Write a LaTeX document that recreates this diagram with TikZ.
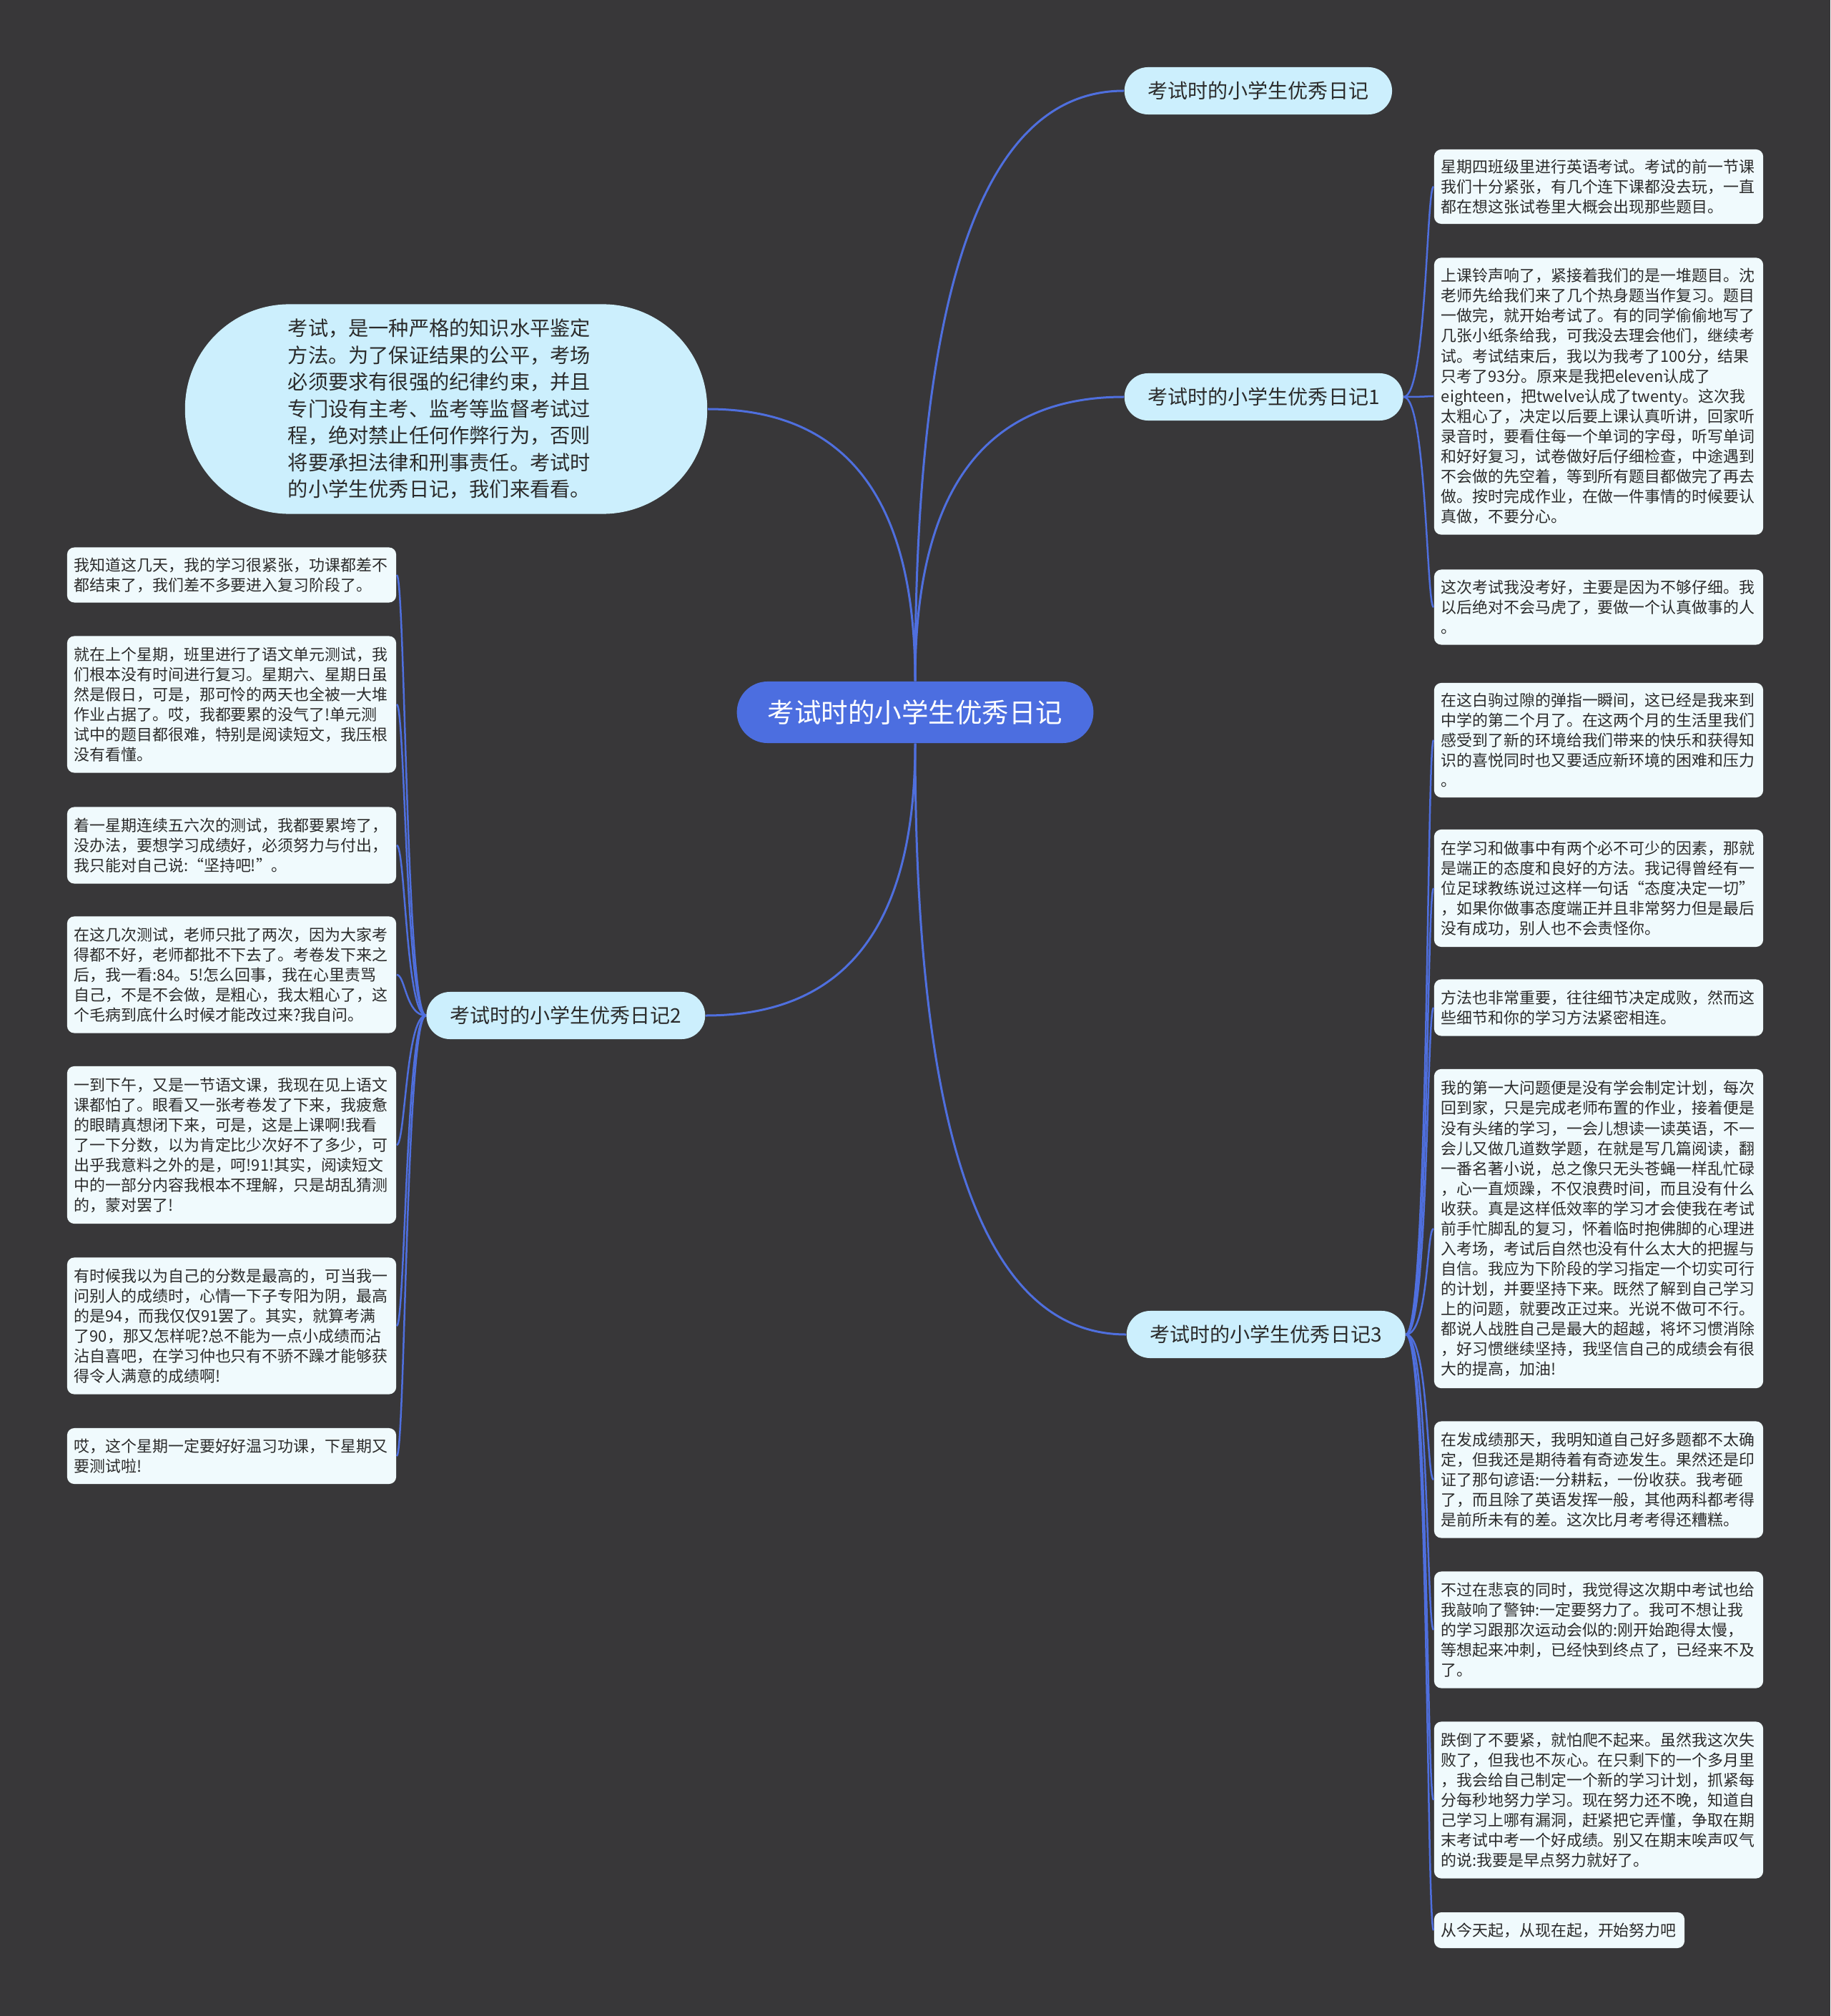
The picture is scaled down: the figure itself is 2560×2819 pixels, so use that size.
\documentclass[tikz,border=0pt]{standalone}
\usepackage{fontspec}
\setmainfont{Noto Sans CJK SC}
\usetikzlibrary{calc}

\definecolor{bgcol}{HTML}{383739}
\definecolor{linkcol}{HTML}{4F6FDE}
\definecolor{rootcol}{HTML}{4C6EE0}
\definecolor{topiccol}{HTML}{CCEFFD}
\definecolor{leafcol}{HTML}{F0FAFD}
\definecolor{inkcol}{HTML}{2B2B2B}

\tikzset{
  root/.style={fill=rootcol, text=white, rounded corners=0.43cm, minimum height=0.86cm,
    inner xsep=0.43cm, font=\fontsize{10.67pt}{12pt}\selectfont},
  topic/.style={fill=topiccol, text=inkcol, rounded corners=0.33cm, minimum height=0.66cm,
    inner xsep=0.33cm, font=\fontsize{7.97pt}{9pt}\selectfont},
  intro/.style={fill=topiccol, text=inkcol, rounded corners=1.46cm, minimum width=7.3cm,
    minimum height=2.93cm, text width=4.42cm, align=left, font=\fontsize{8.02pt}{10.67pt}\selectfont},
  leaf/.style={fill=leafcol, text=inkcol, rounded corners=0.1cm, text width=4.4cm,
    inner xsep=0.1cm, inner ysep=0pt, align=left, font=\fontsize{6.23pt}{7.97pt}\selectfont},
  limb/.style={draw=linkcol, line width=0.03cm},
  twig/.style={draw=linkcol, line width=0.025cm},
}

% curved branch from the root, bending through the corner (from |- to)
\newcommand{\branch}[2]{\draw[limb] (#1) .. controls ($(#1)!.67!(#1 |- #2)$) and ($(#2)!.67!(#1 |- #2)$) .. (#2);}

\begin{document}
\begin{tikzpicture}[x=0.01cm, y=-0.01cm]
\path[use as bounding box, fill=bgcol] (0,0) rectangle (2560,2819);

% Centre and main topics
\node[root] (root) at (1280,996) {考试时的小学生优秀日记};
\node[topic, anchor=west] (t0) at (1572,127) {考试时的小学生优秀日记};
\node[topic, anchor=west] (t1) at (1572,555) {考试时的小学生优秀日记1};
\node[topic, anchor=east] (t2) at (987,1420) {考试时的小学生优秀日记2};
\node[topic, anchor=west] (t3) at (1575,1866) {考试时的小学生优秀日记3};

\node[intro] (intro) at (624,572) {考试，是一种严格的知识水平鉴定\\
方法。为了保证结果的公平，考场\\
必须要求有很强的纪律约束，并且\\
专门设有主考、监考等监督考试过\\
程，绝对禁止任何作弊行为，否则\\
将要承担法律和刑事责任。考试时\\
的小学生优秀日记，我们来看看。};

% Leaves of topic 1
\node[leaf, minimum height=1.04cm] (l1a) at (2236,261) {星期四班级里进行英语考试。考试的前一节课\\
我们十分紧张，有几个连下课都没去玩，一直\\
都在想这张试卷里大概会出现那些题目。};
\node[leaf, minimum height=3.87cm] (l1b) at (2236,554) {上课铃声响了，紧接着我们的是一堆题目。沈\\
老师先给我们来了几个热身题当作复习。题目\\
一做完，就开始考试了。有的同学偷偷地写了\\
几张小纸条给我，可我没去理会他们，继续考\\
试。考试结束后，我以为我考了100分，结果\\
只考了93分。原来是我把eleven认成了\\
eighteen，把twelve认成了twenty。这次我\\
太粗心了，决定以后要上课认真听讲，回家听\\
录音时，要看住每一个单词的字母，听写单词\\
和好好复习，试卷做好后仔细检查，中途遇到\\
不会做的先空着，等到所有题目都做完了再去\\
做。按时完成作业，在做一件事情的时候要认\\
真做，不要分心。};
\node[leaf, minimum height=1.05cm] (l1c) at (2236,849) {这次考试我没考好，主要是因为不够仔细。我\\
以后绝对不会马虎了，要做一个认真做事的人\\
。};

% Leaves of topic 3
\node[leaf, minimum height=1.6cm] (l3a) at (2236,1035) {在这白驹过隙的弹指一瞬间，这已经是我来到\\
中学的第二个月了。在这两个月的生活里我们\\
感受到了新的环境给我们带来的快乐和获得知\\
识的喜悦同时也又要适应新环境的困难和压力\\
。};
\node[leaf, minimum height=1.64cm] (l3b) at (2236,1242) {在学习和做事中有两个必不可少的因素，那就\\
是端正的态度和良好的方法。我记得曾经有一\\
位足球教练说过这样一句话“态度决定一切”\\
，如果你做事态度端正并且非常努力但是最后\\
没有成功，别人也不会责怪你。};
\node[leaf, minimum height=0.79cm] (l3c) at (2236,1409) {方法也非常重要，往往细节决定成败，然而这\\
些细节和你的学习方法紧密相连。};
\node[leaf, minimum height=4.46cm] (l3d) at (2236,1718) {我的第一大问题便是没有学会制定计划，每次\\
回到家，只是完成老师布置的作业，接着便是\\
没有头绪的学习，一会儿想读一读英语，不一\\
会儿又做几道数学题，在就是写几篇阅读，翻\\
一番名著小说，总之像只无头苍蝇一样乱忙碌\\
，心一直烦躁，不仅浪费时间，而且没有什么\\
收获。真是这样低效率的学习才会使我在考试\\
前手忙脚乱的复习，怀着临时抱佛脚的心理进\\
入考场，考试后自然也没有什么太大的把握与\\
自信。我应为下阶段的学习指定一个切实可行\\
的计划，并要坚持下来。既然了解到自己学习\\
上的问题，就要改正过来。光说不做可不行。\\
都说人战胜自己是最大的超越，将坏习惯消除\\
，好习惯继续坚持，我坚信自己的成绩会有很\\
大的提高，加油!};
\node[leaf, minimum height=1.63cm] (l3e) at (2236,2069) {在发成绩那天，我明知道自己好多题都不太确\\
定，但我还是期待着有奇迹发生。果然还是印\\
证了那句谚语:一分耕耘，一份收获。我考砸\\
了，而且除了英语发挥一般，其他两科都考得\\
是前所未有的差。这次比月考考得还糟糕。};
\node[leaf, minimum height=1.63cm] (l3f) at (2236,2279) {不过在悲哀的同时，我觉得这次期中考试也给\\
我敲响了警钟:一定要努力了。我可不想让我\\
的学习跟那次运动会似的:刚开始跑得太慢，\\
等想起来冲刺，已经快到终点了，已经来不及\\
了。};
\node[leaf, minimum height=2.19cm] (l3g) at (2236,2517) {跌倒了不要紧，就怕爬不起来。虽然我这次失\\
败了，但我也不灰心。在只剩下的一个多月里\\
，我会给自己制定一个新的学习计划，抓紧每\\
分每秒地努力学习。现在努力还不晚，知道自\\
己学习上哪有漏洞，赶紧把它弄懂，争取在期\\
末考试中考一个好成绩。别又在期末唉声叹气\\
的说:我要是早点努力就好了。};
\node[leaf, minimum height=0.5cm, text width=3.3cm] (l3h) at (2181,2699) {从今天起，从现在起，开始努力吧};

% Leaves of topic 2
\node[leaf, minimum height=0.77cm] (l2a) at (324,804) {我知道这几天，我的学习很紧张，功课都差不\\
都结束了，我们差不多要进入复习阶段了。};
\node[leaf, minimum height=1.91cm] (l2b) at (324,985) {就在上个星期，班里进行了语文单元测试，我\\
们根本没有时间进行复习。星期六、星期日虽\\
然是假日，可是，那可怜的两天也全被一大堆\\
作业占据了。哎，我都要累的没气了!单元测\\
试中的题目都很难，特别是阅读短文，我压根\\
没有看懂。};
\node[leaf, minimum height=1.07cm] (l2c) at (324,1182) {着一星期连续五六次的测试，我都要累垮了，\\
没办法，要想学习成绩好，必须努力与付出，\\
我只能对自己说:“坚持吧!”。};
\node[leaf, minimum height=1.63cm] (l2d) at (324,1363) {在这几次测试，老师只批了两次，因为大家考\\
得都不好，老师都批不下去了。考卷发下来之\\
后，我一看:84。5!怎么回事，我在心里责骂\\
自己，不是不会做，是粗心，我太粗心了，这\\
个毛病到底什么时候才能改过来?我自问。};
\node[leaf, minimum height=2.2cm] (l2e) at (324,1601) {一到下午，又是一节语文课，我现在见上语文\\
课都怕了。眼看又一张考卷发了下来，我疲惫\\
的眼睛真想闭下来，可是，这是上课啊!我看\\
了一下分数，以为肯定比少次好不了多少，可\\
出乎我意料之外的是，呵!91!其实，阅读短文\\
中的一部分内容我根本不理解，只是胡乱猜测\\
的，蒙对罢了!};
\node[leaf, minimum height=1.91cm] (l2f) at (324,1854) {有时候我以为自己的分数是最高的，可当我一\\
问别人的成绩时，心情一下子专阳为阴，最高\\
的是94，而我仅仅91罢了。其实，就算考满\\
了90，那又怎样呢?总不能为一点小成绩而沾\\
沾自喜吧，在学习仲也只有不骄不躁才能够获\\
得令人满意的成绩啊!};
\node[leaf, minimum height=0.78cm] (l2g) at (324,2036) {哎，这个星期一定要好好温习功课，下星期又\\
要测试啦!};

% Branches from the root
\branch{root.north}{t0.west}
\branch{root.north}{t1.west}
\branch{root.north}{intro.east}
\branch{root.south}{t2.east}
\branch{root.south}{t3.west}

% Twigs to the leaves
\foreach \l in {l1a,l1b,l1c}
  \draw[twig] (t1.east) .. controls +(32,0) and +(-10,0) .. (\l.west);
\foreach \l in {l3a,l3b,l3c,l3d,l3e,l3f,l3g,l3h}
  \draw[twig] (t3.east) .. controls +(32,0) and +(-10,0) .. (\l.west);
\foreach \l in {l2a,l2b,l2c,l2d,l2e,l2f,l2g}
  \draw[twig] (t2.west) .. controls +(-28,0) and +(12,0) .. (\l.east);
\end{tikzpicture}
\end{document}
